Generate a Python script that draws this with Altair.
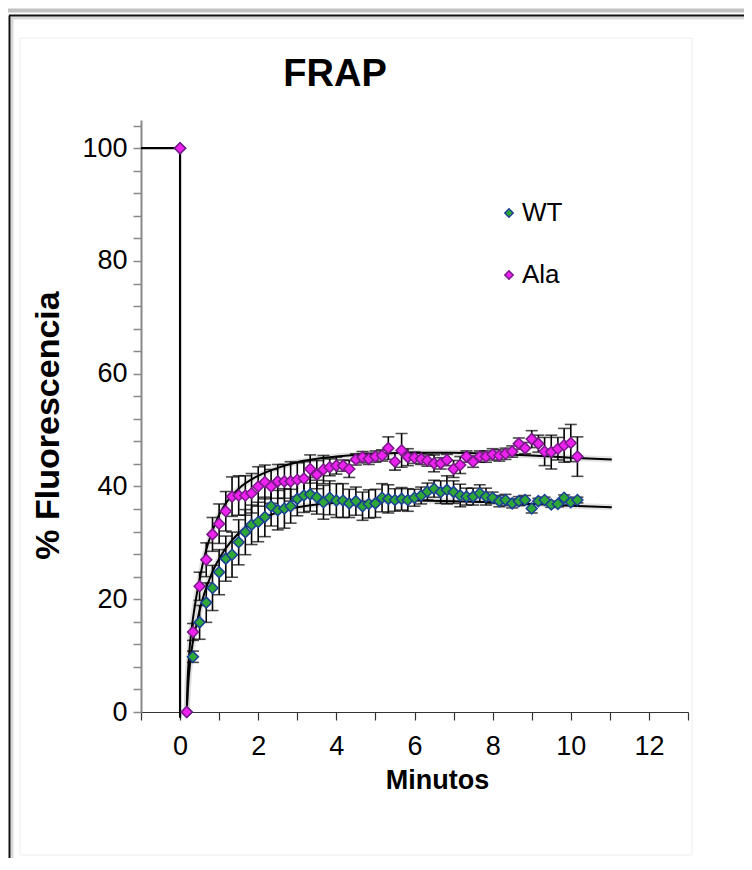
import altair as alt
import pandas as pd

# ---------------- data ----------------
SERIES = ["WT", "Ala"]
FILL = ["#2fa838", "#ee22ee"]
STROKE = ["#1b3f94", "#7a1a8a"]

TIMES = [0, 0.17, 0.33, 0.5, 0.67, 0.83, 1.0, 1.17, 1.33, 1.5, 1.67, 1.83,
         2.0, 2.17, 2.33, 2.5, 2.67, 2.83, 3.0, 3.17, 3.33, 3.5, 3.67, 3.83,
         4.0, 4.17, 4.33, 4.5, 4.67, 4.83, 5.0, 5.17, 5.33, 5.5, 5.67, 5.83,
         6.0, 6.17, 6.33, 6.5, 6.67, 6.83, 7.0, 7.17, 7.33, 7.5, 7.67, 7.83,
         8.0, 8.17, 8.33, 8.5, 8.67, 8.83, 9.0, 9.17, 9.33, 9.5, 9.67, 9.83,
         10.0, 10.17]

WT = [100, 0, 9.8, 15.9, 19.4, 22.0, 24.8, 27.2, 27.9, 30.1, 31.9, 33.2,
      33.7, 34.6, 36.5, 35.8, 36.1, 36.5, 37.8, 38.4, 38.6, 38.1, 37.2, 38.0,
      37.5, 37.5, 37.0, 37.4, 36.5, 36.9, 37.0, 38.0, 37.8, 37.6, 37.8, 37.6,
      38.0, 38.4, 39.1, 39.6, 39.0, 39.4, 39.0, 38.4, 38.2, 38.2, 38.8, 38.2,
      38.0, 37.4, 37.6, 37.0, 37.4, 37.6, 36.1, 37.4, 37.6, 36.8, 36.9, 38.0,
      37.2, 37.6]
WT_ERR = [0, 0, 1.0, 3.0, 3.5, 4.0, 4.0, 4.0, 4.0, 4.0, 4.0, 3.5,
          3.5, 3.5, 3.5, 3.5, 3.5, 3.0, 3.0, 3.0, 3.0, 3.0, 3.0, 3.0,
          3.0, 3.0, 2.5, 2.5, 2.5, 2.5, 2.5, 2.5, 2.5, 2.0, 2.0, 2.0,
          1.5, 1.5, 1.5, 1.5, 2.0, 2.5, 2.0, 2.0, 1.5, 1.5, 1.5, 1.5,
          1.0, 1.0, 1.0, 0.8, 0.8, 0.8, 0.8, 0.5, 0.5, 0.5, 0.5, 0.5,
          0.5, 0.5]

ALA = [100, 0, 14.2, 22.3, 27.0, 31.5, 33.4, 35.6, 38.2, 38.4, 38.4, 38.8,
       40.0, 40.8, 40.0, 40.9, 40.9, 40.9, 41.2, 41.4, 43.1, 42.1, 43.0, 43.4,
       43.7, 43.7, 43.1, 44.8, 45.2, 44.9, 45.3, 45.5, 46.8, 44.4, 46.4, 45.2,
       45.1, 44.9, 44.6, 44.1, 44.1, 44.7, 43.1, 43.8, 45.3, 44.4, 45.3, 45.3,
       45.7, 45.5, 45.8, 46.2, 47.6, 46.8, 48.4, 47.6, 46.2, 46.1, 46.7, 47.3,
       47.7, 45.3]
ALA_ERR = [0, 0, 1.5, 2.5, 3.0, 3.0, 3.5, 3.5, 3.5, 3.5, 3.5, 3.5,
           3.5, 3.0, 3.0, 3.0, 3.0, 3.5, 3.0, 3.0, 2.5, 2.5, 2.5, 1.5,
           1.5, 1.0, 1.5, 1.0, 1.0, 1.0, 1.0, 1.0, 2.0, 1.5, 3.0, 1.5,
           1.0, 1.0, 1.0, 1.5, 1.0, 1.0, 1.5, 1.5, 1.0, 1.0, 1.0, 1.0,
           1.0, 1.0, 1.0, 1.0, 1.0, 1.0, 1.5, 1.5, 2.5, 3.0, 2.0, 3.0,
           3.3, 3.5]

FIT_WT_T = [0.17, 0.2, 0.26, 0.33, 0.42, 0.5, 0.62, 0.75, 0.87, 1.0, 1.3, 1.6,
            2.0, 2.5, 3.0, 3.5, 4.0, 5.0, 6.0, 7.0, 8.0, 9.0, 10.0, 11.05]
FIT_WT_V = [0, 4, 9, 12.5, 15.5, 18, 21, 23.5, 25.5, 27.2, 30.2, 32.3,
            34.0, 35.4, 36.3, 36.8, 37.1, 37.4, 37.5, 37.4, 37.2, 36.9, 36.6, 36.3]

FIT_ALA_T = [0.17, 0.19, 0.23, 0.3, 0.36, 0.43, 0.5, 0.6, 0.7, 0.85, 1.0, 1.2,
             1.5, 2.0, 2.5, 3.0, 3.5, 4.0, 5.0, 6.0, 7.0, 8.0, 9.0, 10.0, 11.05]
FIT_ALA_V = [0, 5, 10, 15, 18, 21, 23.5, 26.9, 29.5, 32.5, 35.0, 37.3,
             39.6, 41.9, 43.3, 44.3, 44.9, 45.3, 45.8, 46.0, 46.0, 45.8, 45.5, 45.1, 44.8]

PRE_T = [-1, 0, 0]
PRE_V = [100, 100, -1]

X_TICKS = list(range(-1, 14))
Y_TICKS = list(range(0, 105, 4))

TITLE = "FRAP"
X_TITLE = "Minutos"
Y_TITLE = "% Fluorescencia"

FONT = "Liberation Sans"

# ---------------- tables ----------------
rows = []
for s, vals, errs in (("WT", WT, WT_ERR), ("Ala", ALA, ALA_ERR)):
    for t, v, e in zip(TIMES, vals, errs):
        rows.append(dict(series=s, t=t, v=v, lo=v - e, hi=v + e, err=e,
                         ord=SERIES.index(s)))
pts = pd.DataFrame(rows)
errs = pts[pts.err > 0].copy()
caps = pd.concat([
    errs[["series", "t", "lo"]].rename(columns={"lo": "v"}),
    errs[["series", "t", "hi"]].rename(columns={"hi": "v"}),
])

fits = pd.concat([
    pd.DataFrame(dict(series="WT", t=FIT_WT_T, v=FIT_WT_V)),
    pd.DataFrame(dict(series="Ala", t=FIT_ALA_T, v=FIT_ALA_V)),
])
pre = pd.DataFrame(dict(t=PRE_T, v=PRE_V, idx=range(len(PRE_T))))

# ---------------- scales / axes ----------------
x_axis = alt.Axis(
    values=X_TICKS,
    labelExpr="datum.value % 2 === 0 ? datum.label : ''",
    labelOverlap=False,
    title=X_TITLE,
    titleX=296, titleY=68, titleBaseline="middle", titleAlign="center",
    titleFontSize=27, titleFontWeight="bold", titleFont=FONT, titleColor="black",
    labelFontSize=27, labelFont=FONT, labelColor="black", labelPadding=13,
    tickSize=8, tickColor="#333333", tickWidth=1.2,
    domainColor="#333333", domainWidth=1.2, grid=False,
)
y_axis = alt.Axis(
    values=Y_TICKS,
    labelExpr="datum.value % 20 === 0 ? datum.label : ''",
    labelOverlap=False,
    title=Y_TITLE,
    titleX=-93, titleY=305, titleBaseline="middle", titleAlign="center",
    titleFontSize=34, titleFontWeight="bold", titleFont=FONT, titleColor="black",
    labelFontSize=27, labelFont=FONT, labelColor="black", labelPadding=6,
    tickSize=8, tickColor="#888888", tickWidth=1.5,
    domainColor="#888888", domainWidth=2, grid=False,
)
x_scale = alt.Scale(domain=[-1, 13], nice=False, zero=False)
y_scale = alt.Scale(domain=[0, 105], nice=False, zero=False)


def X(field="t"):
    return alt.X(f"{field}:Q", scale=x_scale, axis=x_axis)


def Y(field="v"):
    return alt.Y(f"{field}:Q", scale=y_scale, axis=y_axis)


pre_line = alt.Chart(pre).mark_line(color="black", strokeWidth=2.2).encode(
    x=X(), y=Y(), order="idx:Q")

fit_shadow = alt.Chart(fits).mark_line(color="#d0d0d0", strokeWidth=6, opacity=0.6,
                                       interpolate="monotone").encode(
    x=X(), y=Y(), detail="series:N")

fit_lines = alt.Chart(fits).mark_line(color="black", strokeWidth=2, interpolate="monotone").encode(
    x=X(), y=Y(), detail="series:N")

bars = alt.Chart(errs).mark_rule(color="black", strokeWidth=1.6).encode(
    x=X(), y=Y("lo"), y2="hi:Q")

cap_ticks = alt.Chart(caps).mark_tick(color="black", orient="horizontal", size=12, thickness=1.6).encode(
    x=X(), y=Y())

leg = dict(title=None, orient="none", legendX=355, legendY=80,
           symbolType="diamond", symbolSize=70, symbolStrokeWidth=1.5,
           labelFontSize=26, labelFont=FONT, labelColor="black",
           rowPadding=36, labelOffset=0)

points = alt.Chart(pts).mark_point(shape="diamond", filled=True, size=120, strokeWidth=1.5, opacity=1).encode(
    x=X(), y=Y(),
    fill=alt.Fill("series:N", scale=alt.Scale(domain=SERIES, range=FILL),
                  legend=alt.Legend(**leg)),
    stroke=alt.Stroke("series:N", scale=alt.Scale(domain=SERIES, range=STROKE),
                      legend=alt.Legend(**leg)),
    order=alt.Order("ord:Q"),
)

# decorative frame and title (outside the plot area)
one = pd.DataFrame({"a": [0]})
gray_bar = alt.Chart(one).mark_rule(color="#c2c2c2", strokeWidth=4).encode(
    x=alt.value(-133), x2=alt.value(603), y=alt.value(-109.5))
frame_top = alt.Chart(one).mark_rule(color="#111111", strokeWidth=2).encode(
    x=alt.value(-132), x2=alt.value(603), y=alt.value(-104.5))
frame_left = alt.Chart(one).mark_rule(color="#111111", strokeWidth=2).encode(
    x=alt.value(-131.5), y=alt.value(-104.5), y2=alt.value(738))
shade_top = alt.Chart(one).mark_rule(color="#d9d9d9", strokeWidth=3).encode(
    x=alt.value(-130), x2=alt.value(603), y=alt.value(-102))
shade_left = alt.Chart(one).mark_rule(color="#d9d9d9", strokeWidth=3).encode(
    x=alt.value(-129), y=alt.value(-102), y2=alt.value(738))
inner_box = alt.Chart(one).mark_rect(fill=None, stroke="#ececec", strokeWidth=1).encode(
    x=alt.value(-121), x2=alt.value(551), y=alt.value(-82), y2=alt.value(735))
title_text = alt.Chart(one).mark_text(
    text=TITLE, fontSize=38, fontWeight="bold", font=FONT, color="black",
    align="center", baseline="middle",
).encode(x=alt.value(194), y=alt.value(-45))

chart = alt.layer(
    gray_bar, shade_top, shade_left, frame_top, frame_left, inner_box, title_text,
    pre_line, fit_shadow, fit_lines, bars, cap_ticks, points,
).properties(
    width=547, height=592,
    autosize=alt.AutoSizeParams(type="none"),
    padding={"left": 133, "top": 112, "right": 56, "bottom": 146},
    background="white",
).configure_view(stroke=None).configure_axis(labelOverlap=False)

chart.save("out.html", embed_options={"renderer": "svg", "actions": False})
